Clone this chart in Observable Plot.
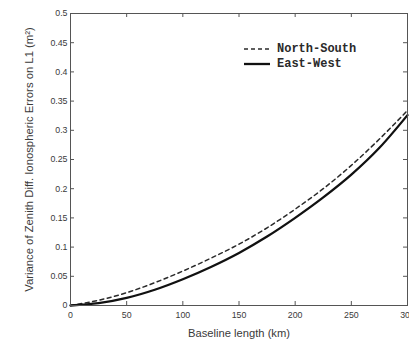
<!DOCTYPE html>
<html><head><meta charset="utf-8">
<script src="https://cdn.jsdelivr.net/npm/d3@7"></script>
<script src="https://cdn.jsdelivr.net/npm/@observablehq/plot@0.6"></script>
<style>
body{margin:0;background:#fff;overflow:hidden}
#wrap{position:relative;width:409px;height:341px;overflow:hidden}
#legend{position:absolute;left:244px;top:42px;font-family:"Liberation Mono","DejaVu Sans Mono",monospace;font-size:12px;font-weight:bold;color:#2a2a2a;line-height:14.5px}
#legend div{display:flex;align-items:center;white-space:nowrap}
#legend svg{margin-right:7px}
</style>
</head><body><div id="wrap"><div id="legend"></div></div>
<script>
const baseline   = [0, 25, 50, 75, 100, 125, 150, 175, 200, 225, 250, 275, 300];
const northSouth = [0, 0.009, 0.022, 0.039, 0.059, 0.081, 0.105, 0.133, 0.165, 0.200, 0.240, 0.285, 0.334];
const eastWest   = [0, 0.004, 0.013, 0.027, 0.045, 0.066, 0.090, 0.118, 0.150, 0.185, 0.224, 0.270, 0.326];
const xTicks = [0, 50, 100, 150, 200, 250, 300];
const yTicks = [0, 0.05, 0.1, 0.15, 0.2, 0.25, 0.3, 0.35, 0.4, 0.45, 0.5];
const seriesNames = ["North-South", "East-West"];
const xLabel = "Baseline length (km)";
const yLabel = "Variance of Zenith Diff. Ionospheric Errors on L1 (m²)";

const W = 409, H = 341, mL = 70, mR = 2, mT = 13, mB = 36;
const pw = W - mL - mR, ph = H - mT - mB;
const ink = "#2a2a2a";

const ns = baseline.map((b, i) => ({b, v: northSouth[i]}));
const ew = baseline.map((b, i) => ({b, v: eastWest[i]}));
const fmt = d => d === 0 ? "0" : String(d);

const chart = Plot.plot({
  width: W, height: H,
  marginLeft: mL, marginRight: mR, marginTop: mT, marginBottom: mB,
  style: {fontFamily: "'Liberation Sans', Arial, sans-serif", color: "#3a3a3a", background: "#fff"},
  x: {domain: [0, 300]},
  y: {domain: [0, 0.5]},
  marks: [
    Plot.line(ns, {x: "b", y: "v", curve: "monotone-x", stroke: ink, strokeWidth: 1.5, strokeDasharray: "4,3.5"}),
    Plot.line(ew, {x: "b", y: "v", curve: "monotone-x", stroke: "#111", strokeWidth: 2.3}),
    Plot.frame({stroke: "#555", strokeWidth: 1}),
    Plot.tickX(xTicks, {x: d => d, insetTop: ph - 4, stroke: "#555"}),
    Plot.tickX(xTicks, {x: d => d, insetBottom: ph - 4, stroke: "#555"}),
    Plot.tickY(yTicks, {y: d => d, insetRight: pw - 4, stroke: "#555"}),
    Plot.tickY(yTicks, {y: d => d, insetLeft: pw - 4, stroke: "#555"}),
    Plot.axisX({ticks: xTicks, tickSize: 0, tickPadding: 6, tickFormat: fmt, fontSize: 8.8, label: null}),
    Plot.axisY({ticks: yTicks, tickSize: 0, tickPadding: 3, tickFormat: fmt, fontSize: 8.8, label: null}),
    Plot.text([xLabel], {text: d => d, frameAnchor: "bottom", dy: 31, fontSize: 11.2, fill: "#3a3a3a"}),
    Plot.text([yLabel], {text: d => d, frameAnchor: "left", textAnchor: "middle", rotate: -90, dx: -41, fontSize: 11.3, fill: "#3a3a3a"})
  ]
});
document.getElementById("wrap").prepend(chart);

const legend = document.getElementById("legend");
seriesNames.forEach((name, i) => {
  const row = document.createElement("div");
  const dash = i === 0 ? 'stroke-dasharray="4,3" stroke-width="1.5"' : 'stroke-width="2.3"';
  row.innerHTML = `<svg width="26" height="10"><line x1="0" x2="26" y1="5" y2="5" stroke="${i === 0 ? ink : '#111'}" ${dash}/></svg><span>${name}</span>`;
  legend.appendChild(row);
});
</script>
</body></html>
